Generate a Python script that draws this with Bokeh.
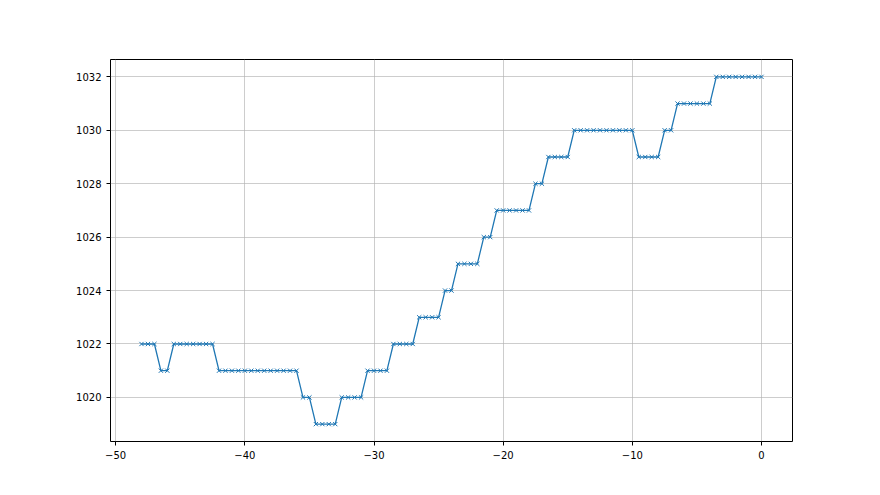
from bokeh.plotting import figure
from bokeh.models import Range1d, FixedTicker
from bokeh.embed import file_html
from bokeh.resources import INLINE

hours = [-48.0, -47.5, -47.0, -46.5, -46.0, -45.5, -45.0, -44.5, -44.0, -43.5,
         -43.0, -42.5, -42.0, -41.5, -41.0, -40.5, -40.0, -39.5, -39.0, -38.5,
         -38.0, -37.5, -37.0, -36.5, -36.0, -35.5, -35.0, -34.5, -34.0, -33.5,
         -33.0, -32.5, -32.0, -31.5, -31.0, -30.5, -30.0, -29.5, -29.0, -28.5,
         -28.0, -27.5, -27.0, -26.5, -26.0, -25.5, -25.0, -24.5, -24.0, -23.5,
         -23.0, -22.5, -22.0, -21.5, -21.0, -20.5, -20.0, -19.5, -19.0, -18.5,
         -18.0, -17.5, -17.0, -16.5, -16.0, -15.5, -15.0, -14.5, -14.0, -13.5,
         -13.0, -12.5, -12.0, -11.5, -11.0, -10.5, -10.0, -9.5, -9.0, -8.5,
         -8.0, -7.5, -7.0, -6.5, -6.0, -5.5, -5.0, -4.5, -4.0, -3.5,
         -3.0, -2.5, -2.0, -1.5, -1.0, -0.5, 0.0]
pressure = [1022, 1022, 1022, 1021, 1021, 1022, 1022, 1022, 1022, 1022,
            1022, 1022, 1021, 1021, 1021, 1021, 1021, 1021, 1021, 1021,
            1021, 1021, 1021, 1021, 1021, 1020, 1020, 1019, 1019, 1019,
            1019, 1020, 1020, 1020, 1020, 1021, 1021, 1021, 1021, 1022,
            1022, 1022, 1022, 1023, 1023, 1023, 1023, 1024, 1024, 1025,
            1025, 1025, 1025, 1026, 1026, 1027, 1027, 1027, 1027, 1027,
            1027, 1028, 1028, 1029, 1029, 1029, 1029, 1030, 1030, 1030,
            1030, 1030, 1030, 1030, 1030, 1030, 1030, 1029, 1029, 1029,
            1029, 1030, 1030, 1031, 1031, 1031, 1031, 1031, 1031, 1032,
            1032, 1032, 1032, 1032, 1032, 1032, 1032]
x_ticks = [-50, -40, -30, -20, -10, 0]
y_ticks = [1020, 1022, 1024, 1026, 1028, 1030, 1032]

color = "#1f77b4"

p = figure(width=864, height=479, output_backend="svg", toolbar_location=None,
           x_range=Range1d(-50.4, 2.4), y_range=Range1d(1018.35, 1032.65),
           min_border_left=110, min_border_right=72, min_border_top=59,
           min_border_bottom=38)

p.line(hours, pressure, line_color=color, line_width=1.3)
p.scatter(hours, pressure, marker="x", size=6, line_color=color, line_width=1)

p.outline_line_color = "black"
p.outline_line_width = 1
p.background_fill_color = "white"
p.border_fill_color = "white"

for ax, ticks in ((p.xaxis, x_ticks), (p.yaxis, y_ticks)):
    ax.ticker = FixedTicker(ticks=ticks)
    ax.minor_tick_line_color = None
    ax.major_tick_in = 0
    ax.major_tick_out = 4
    ax.major_label_text_font = "DejaVu Sans"
    ax.major_label_text_font_size = "10px"
    ax.major_label_text_color = "black"
    ax.axis_line_color = None
    ax.major_tick_line_color = "black"

p.xgrid.ticker = FixedTicker(ticks=x_ticks)
p.ygrid.ticker = FixedTicker(ticks=y_ticks)
p.grid.grid_line_color = "#b0b0b0"
p.grid.grid_line_alpha = 0.8
p.grid.grid_line_width = 0.8

open("out.html", "w").write(file_html(p, INLINE))
